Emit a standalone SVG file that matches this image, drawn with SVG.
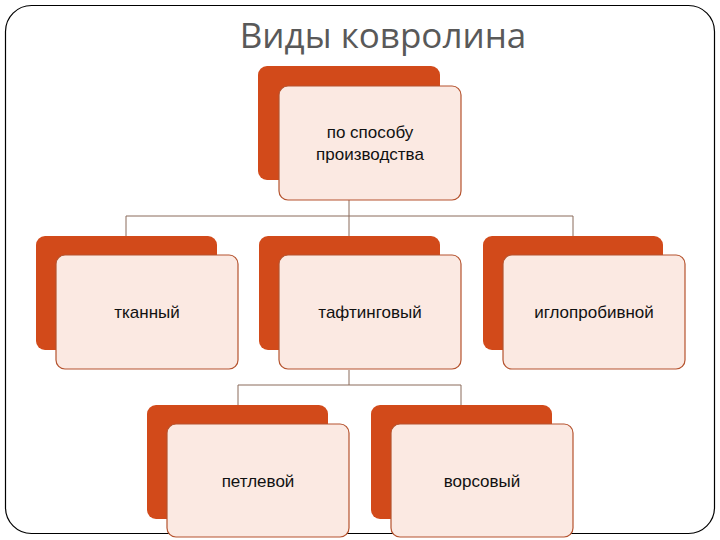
<svg xmlns="http://www.w3.org/2000/svg" width="720" height="540" viewBox="0 0 720 540">
<style>
.b{fill:#d24a1a}
.f{fill:#fbe9e2;stroke:#b5532e;stroke-width:1.2}
.t{font-family:"Liberation Sans",Arial,sans-serif;font-size:17px;fill:#111;text-anchor:middle}
.c{stroke:#8a6a5a;stroke-width:1;fill:none}
</style>
<rect width="720" height="540" fill="#fff"/>
<rect x="5.5" y="5.5" width="709" height="528" rx="26" fill="none" stroke="#000" stroke-width="1.2"/>
<text x="383" y="48" font-family="'Open Sans',sans-serif" font-size="35" fill="#595959" text-anchor="middle">Виды ковролина</text>
<g id="connectors">
<path class="c" d="M349 200V216M126 216H573M126 216V236M349 216V236M573 216V236"/>
<path class="c" d="M349 370V385M238 385H461M238 385V405M461 385V405"/>
</g>
<g id="n0"><rect class="b" x="258" y="66" width="182" height="114" rx="9"/><rect class="f" x="279" y="86" width="182" height="114" rx="9"/><text class="t" x="370" y="138">по способу</text><text class="t" x="370" y="160">производства</text></g>
<g id="n1"><rect class="b" x="36" y="236" width="181" height="114" rx="9"/><rect class="f" x="56" y="255" width="182" height="114" rx="9"/><text class="t" x="147" y="318">тканный</text></g>
<g id="n2"><rect class="b" x="259" y="236" width="181" height="114" rx="9"/><rect class="f" x="279" y="255" width="182" height="114" rx="9"/><text class="t" x="370" y="318">тафтинговый</text></g>
<g id="n3"><rect class="b" x="483" y="236" width="180" height="114" rx="9"/><rect class="f" x="503" y="255" width="182" height="114" rx="9"/><text class="t" x="594" y="318">иглопробивной</text></g>
<g id="n4"><rect class="b" x="147" y="405" width="181" height="114" rx="9"/><rect class="f" x="167" y="424" width="182" height="113" rx="9"/><text class="t" x="258" y="487">петлевой</text></g>
<g id="n5"><rect class="b" x="371" y="405" width="181" height="114" rx="9"/><rect class="f" x="391" y="424" width="182" height="113" rx="9"/><text class="t" x="482" y="487">ворсовый</text></g>
</svg>
